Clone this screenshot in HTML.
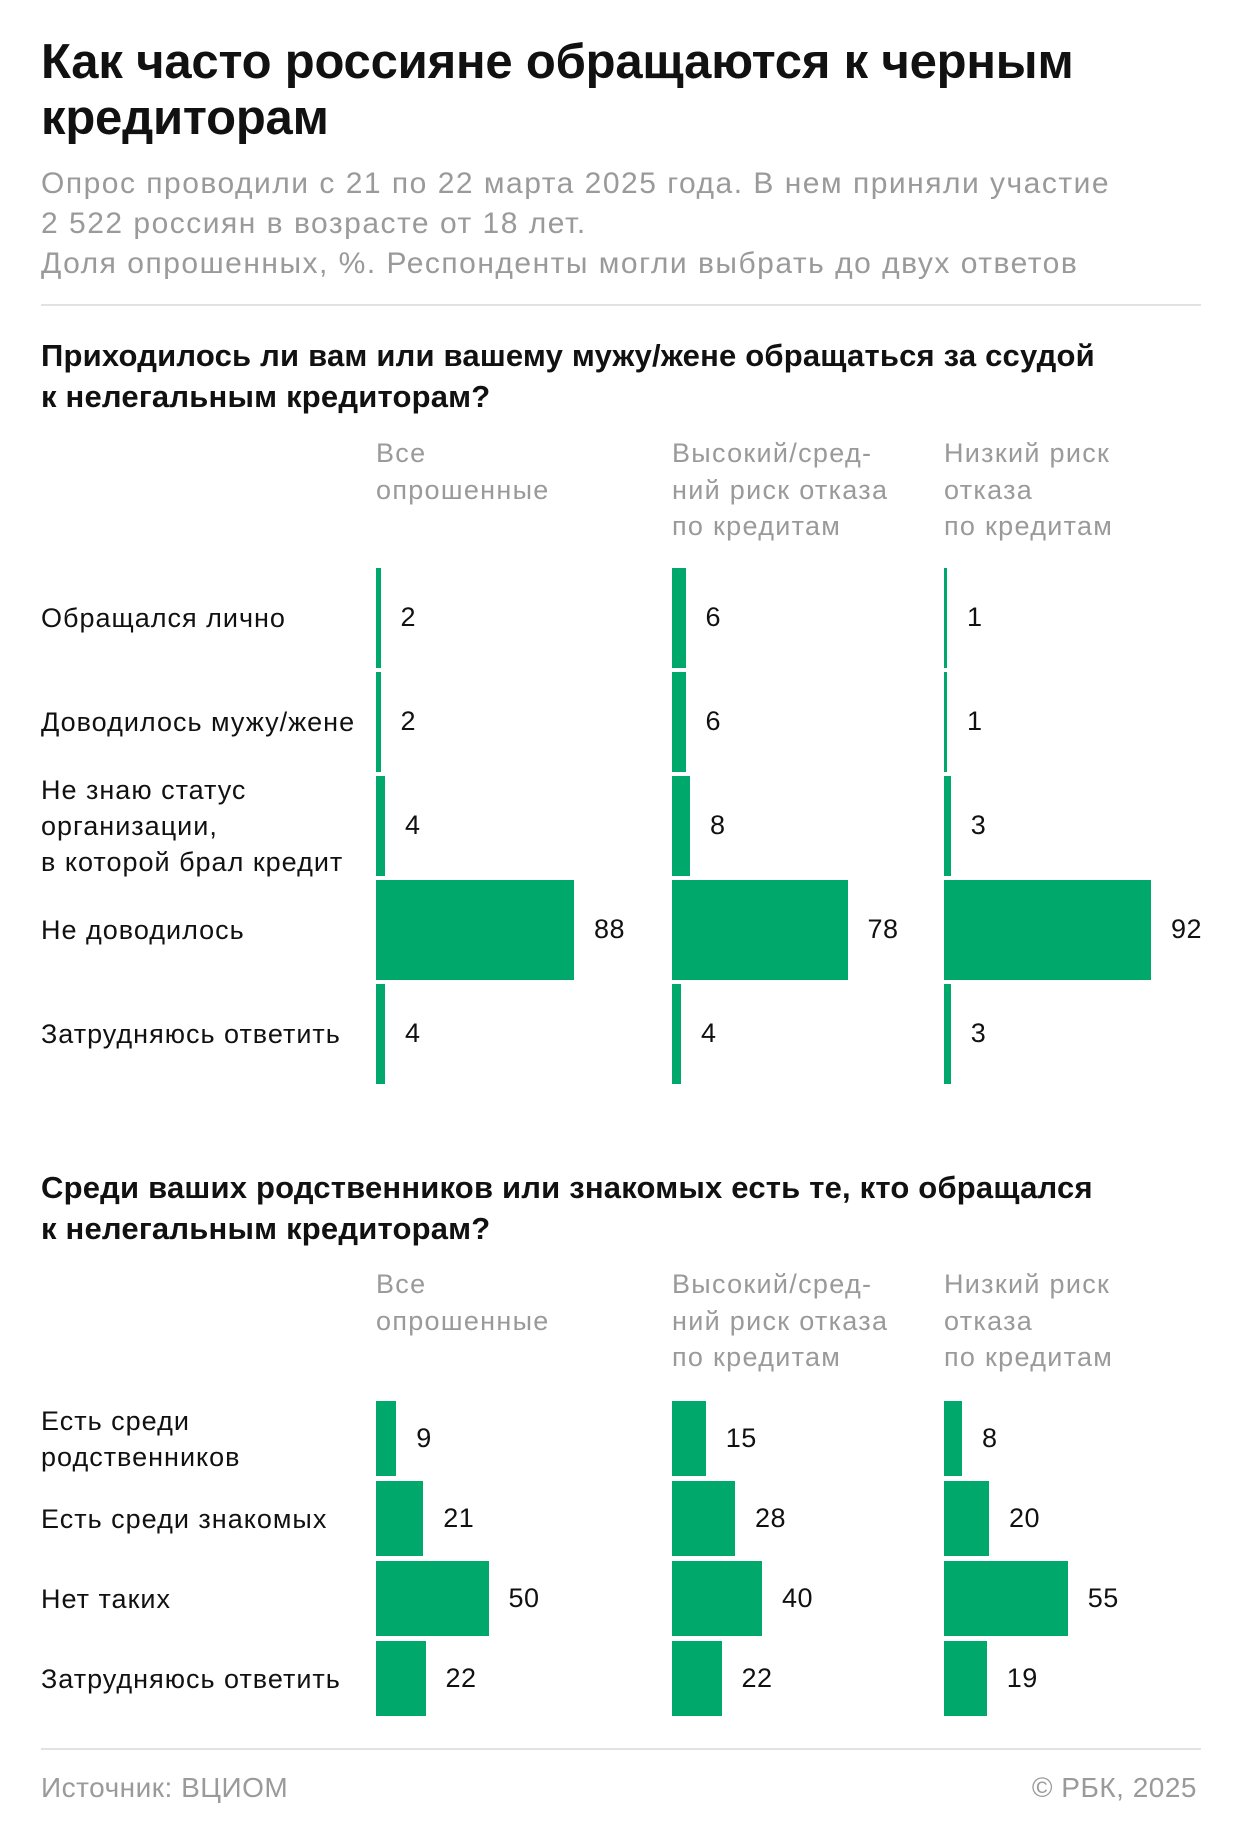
<!DOCTYPE html>
<html><head><meta charset="utf-8"><style>
*{margin:0;padding:0;box-sizing:border-box}
body{width:1240px;height:1836px;background:#fff;font-family:"Liberation Sans",sans-serif;position:relative;overflow:hidden;color:#111}
.a{position:absolute;white-space:nowrap}
.t{font-weight:bold;font-size:49px;line-height:56px;left:41px;letter-spacing:-0.2px}
.s{font-size:30px;color:#9a9a9a;left:41px;line-height:40px;letter-spacing:1.5px}
.q{font-weight:bold;font-size:31px;left:41px;line-height:41px;letter-spacing:0.2px}
.h{font-size:27px;color:#9a9a9a;line-height:36.5px;letter-spacing:1.3px}
.l{font-size:27px;left:41px;line-height:36px;letter-spacing:1px}
.v{font-size:27px;letter-spacing:0.5px}
.b{position:absolute;background:#00a86b}
.r{position:absolute;left:41px;width:1160px;height:2px;background:#e2e2e2}
</style></head><body>
<div class="a t" style="top:34px">Как часто россияне обращаются к черным<br>кредиторам</div>
<div class="a s" style="top:164px">Опрос проводили с 21 по 22 марта 2025 года. В нем приняли участие<br>2 522 россиян в возрасте от 18 лет.<br>Доля опрошенных, %. Респонденты могли выбрать до двух ответов</div>
<div class="r" style="top:304px"></div>
<div class="a q" style="top:335px">Приходилось ли вам или вашему мужу/жене обращаться за ссудой<br>к нелегальным кредиторам?</div>
<div class="a h" style="left:376px;top:435px">Все<br>опрошенные</div>
<div class="a h" style="left:672px;top:435px">Высокий/сред-<br>ний риск отказа<br>по кредитам</div>
<div class="a h" style="left:944px;top:435px">Низкий риск<br>отказа<br>по кредитам</div>
<div id="s1"></div>
<div class="a q" style="top:1167px">Среди ваших родственников или знакомых есть те, кто обращался<br>к нелегальным кредиторам?</div>
<div class="a h" style="left:376px;top:1266px">Все<br>опрошенные</div>
<div class="a h" style="left:672px;top:1266px">Высокий/сред-<br>ний риск отказа<br>по кредитам</div>
<div class="a h" style="left:944px;top:1266px">Низкий риск<br>отказа<br>по кредитам</div>
<div id="s2"></div>
<div class="r" style="top:1748px"></div>
<div class="a v" style="left:41px;top:1772px;color:#9a9a9a;font-size:28px">Источник: ВЦИОМ</div>
<div class="a v" style="right:43px;top:1772px;color:#9a9a9a;font-size:28px">© РБК, 2025</div>
<script>
var cols=[376,672,944],k=2.25;
function sec(id,top,step,h,rows){var o="";rows.forEach(function(r,i){var y=top+i*step;
var lines=r[0].split("|");o+='<div class="a l" style="top:'+(y+h/2-lines.length*18)+'px">'+lines.join("<br>")+'</div>';
for(var c=0;c<3;c++){var w=Math.max(r[1][c]*k,3);o+='<div class="b" style="left:'+cols[c]+'px;top:'+y+'px;width:'+w+'px;height:'+h+'px"></div>';
o+='<div class="a v" style="left:'+(cols[c]+w+20)+'px;top:'+(y+h/2-16)+'px">'+r[1][c]+'</div>';}});
document.getElementById(id).outerHTML=o;}
sec("s1",568,104,99.6,[["Обращался лично",[2,6,1]],["Доводилось мужу/жене",[2,6,1]],["Не знаю статус|организации,|в которой брал кредит",[4,8,3]],["Не доводилось",[88,78,92]],["Затрудняюсь ответить",[4,4,3]]]);
sec("s2",1401,80,75,[["Есть среди|родственников",[9,15,8]],["Есть среди знакомых",[21,28,20]],["Нет таких",[50,40,55]],["Затрудняюсь ответить",[22,22,19]]]);
</script>
</body></html>
